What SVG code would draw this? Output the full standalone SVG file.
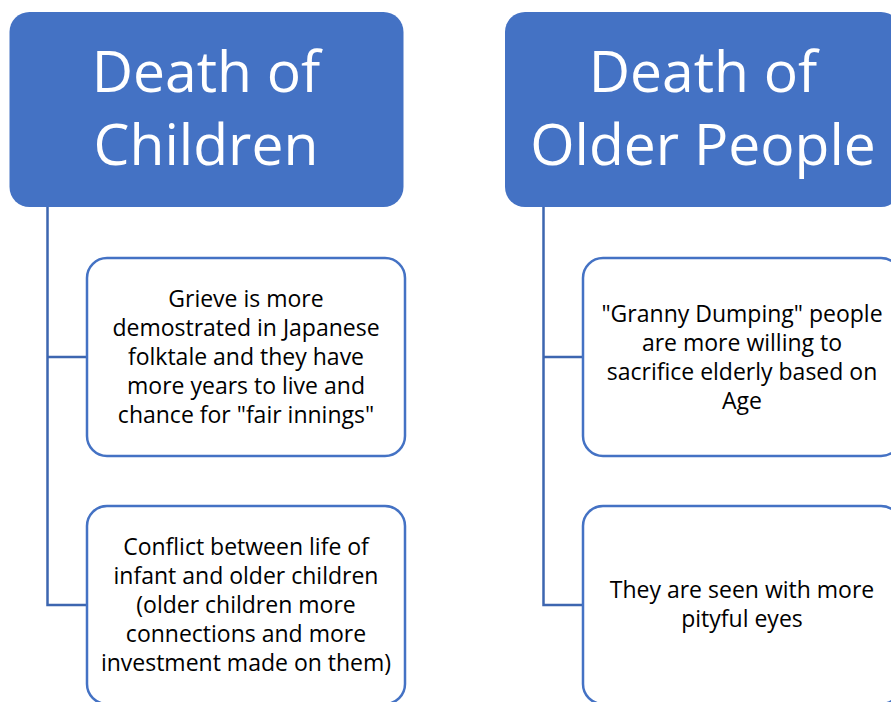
<svg xmlns="http://www.w3.org/2000/svg" width="891" height="702" viewBox="0 0 891 702">
<style>
.head{fill:#4472C4;}
.headtxt{fill:#fff;font-family:"Open Sans","Liberation Sans",sans-serif;font-size:57px;text-anchor:middle;}
.box{fill:#fff;stroke:#4472C4;stroke-width:2.5;}
.txt{fill:#000;font-family:"Open Sans","Liberation Sans",sans-serif;font-size:23px;text-anchor:middle;}
.conn{fill:none;stroke:#3D66B0;stroke-width:2.5;}
</style>
<rect width="891" height="702" fill="#fff"/>
<g id="connectors">
<path class="conn" d="M47.5,207 V605 H87 M47.5,357 H87"/>
<path class="conn" d="M543.5,207 V605 H583 M543.5,357 H583"/>
</g>
<g id="head-children">
<rect class="head" x="9.5" y="12" width="394" height="195" rx="20"/>
<text class="headtxt" x="206" y="92">Death of</text>
<text class="headtxt" x="206" y="165">Children</text>
</g>
<g id="head-older">
<rect class="head" x="505" y="12" width="396" height="195" rx="20"/>
<text class="headtxt" x="703" y="92">Death of</text>
<text class="headtxt" x="703" y="165">Older People</text>
</g>
<g id="child-grieve">
<rect class="box" x="87" y="258" width="318" height="198" rx="20"/>
<text class="txt" x="246" y="307">Grieve is more</text>
<text class="txt" x="246" y="336">demostrated in Japanese</text>
<text class="txt" x="246" y="365">folktale and they have</text>
<text class="txt" x="246" y="394">more years to live and</text>
<text class="txt" x="246" y="423">chance for "fair innings"</text>
</g>
<g id="child-conflict">
<rect class="box" x="87" y="506" width="318" height="198" rx="20"/>
<text class="txt" x="246" y="555">Conflict between life of</text>
<text class="txt" x="246" y="584">infant and older children</text>
<text class="txt" x="246" y="613">(older children more</text>
<text class="txt" x="246" y="642">connections and more</text>
<text class="txt" x="246" y="671">investment made on them)</text>
</g>
<g id="older-granny">
<rect class="box" x="583" y="258" width="318" height="198" rx="20"/>
<text class="txt" x="742" y="322">"Granny Dumping" people</text>
<text class="txt" x="742" y="351">are more willing to</text>
<text class="txt" x="742" y="380">sacrifice elderly based on</text>
<text class="txt" x="742" y="409">Age</text>
</g>
<g id="older-pity">
<rect class="box" x="583" y="506" width="318" height="198" rx="20"/>
<text class="txt" x="742" y="598">They are seen with more</text>
<text class="txt" x="742" y="627">pityful eyes</text>
</g>
</svg>
